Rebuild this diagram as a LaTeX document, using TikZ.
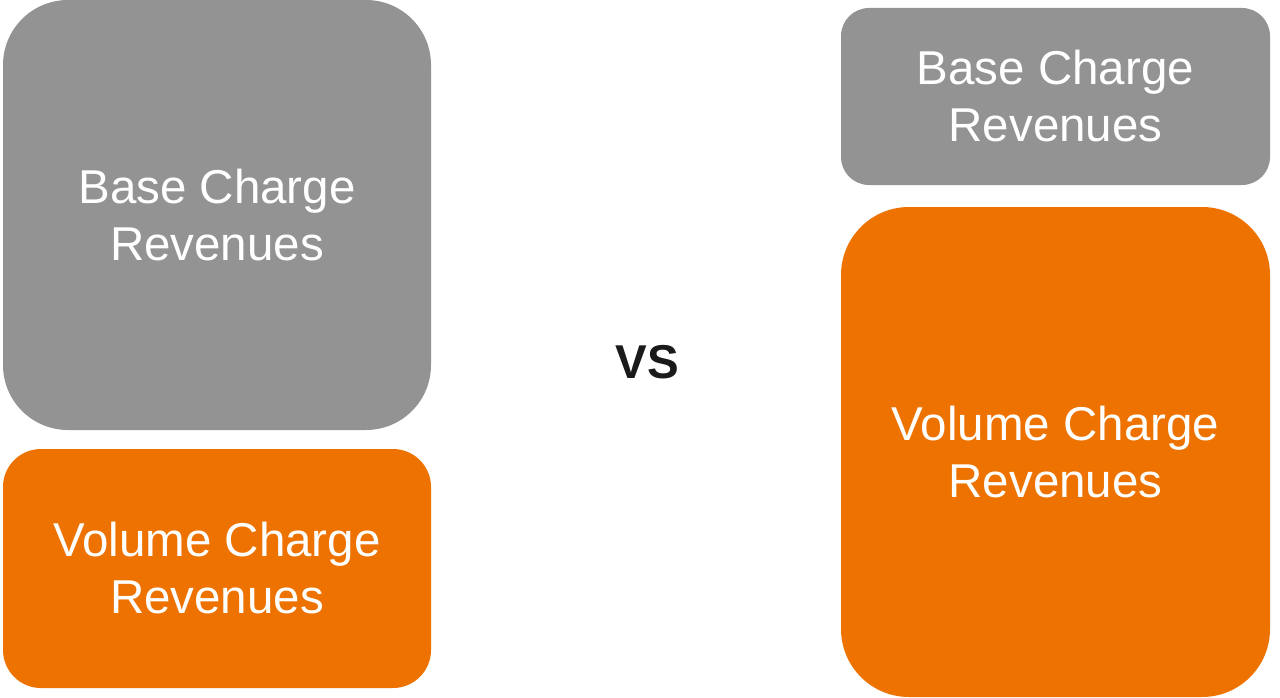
\documentclass[tikz,border=0pt]{standalone}
\usepackage{fontspec}
\setmainfont{Liberation Sans}
\definecolor{boxgray}{RGB}{147,147,147}
\definecolor{boxorange}{RGB}{238,114,0}
\definecolor{vstext}{RGB}{26,26,26}
\begin{document}
\begin{tikzpicture}[x=1pt,y=-1pt,
  card/.style={inner sep=0pt, outer sep=0pt, align=center, text=white,
    font=\fontsize{47.5}{57}\selectfont},
]
\useasboundingbox (0,0) rectangle (1280,698);
\node[card, fill=boxgray, minimum width=428pt, minimum height=430pt, rounded corners=65pt] (lbase) at (217,215) {Base Charge\\Revenues};
\node[card, fill=boxorange, minimum width=428pt, minimum height=239pt, rounded corners=38pt] (lvol) at (217,568.5) {Volume Charge\\Revenues};
\node[card, fill=boxgray, minimum width=429pt, minimum height=177pt, rounded corners=28pt] (rbase) at (1055.5,96.5) {Base Charge\\Revenues};
\node[card, fill=boxorange, minimum width=429pt, minimum height=490pt, rounded corners=68pt] (rvol) at (1055.5,452) {Volume Charge\\Revenues};
\node[inner sep=0pt, text=vstext, font=\fontsize{47.5}{57}\selectfont\bfseries] (vs) at (647,362) {VS};
\end{tikzpicture}
\end{document}
